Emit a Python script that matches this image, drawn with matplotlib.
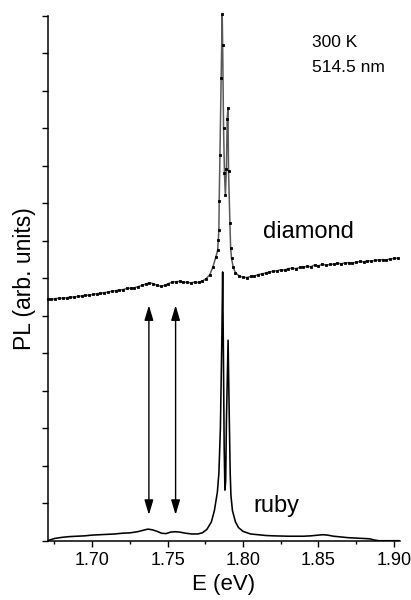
import matplotlib
matplotlib.use("Agg")
import matplotlib.pyplot as plt
from matplotlib.ticker import MultipleLocator, NullFormatter

plt.rcParams['font.family'] = ['Liberation Sans', 'DejaVu Sans']

# diamond spectrum (E in eV, PL in arb. units = y tick steps)
diamond_e = [1.6705, 1.673, 1.6755, 1.678, 1.6805, 1.683, 1.6855, 1.688, 1.6905, 1.693,
             1.6955, 1.698, 1.7005, 1.703, 1.7055, 1.708, 1.7105, 1.713, 1.7155, 1.718,
             1.7205, 1.723, 1.7255, 1.728, 1.7305, 1.733, 1.7355, 1.738, 1.7405, 1.743,
             1.7455, 1.748, 1.7505, 1.753, 1.7555, 1.758, 1.7605, 1.763, 1.7655, 1.768,
             1.7705, 1.773, 1.7755, 1.778, 1.780,
             1.7820, 1.7832, 1.7836, 1.7840, 1.7842, 1.7847, 1.7855, 1.7862, 1.7865, 1.7871,
             1.7877, 1.7883, 1.7890, 1.7895, 1.7900, 1.7904, 1.7913, 1.7918, 1.7924, 1.7935,
             1.7950,
             1.7975, 1.800, 1.8025, 1.805, 1.8075, 1.810, 1.8125, 1.815, 1.8175, 1.820,
             1.8225, 1.825, 1.8275, 1.830, 1.8325, 1.835, 1.8375, 1.840, 1.8425, 1.845,
             1.8475, 1.850, 1.8525, 1.855, 1.8575, 1.860, 1.8625, 1.865, 1.8675, 1.870,
             1.8725, 1.875, 1.8775, 1.880, 1.8825, 1.885, 1.8875, 1.890, 1.8925, 1.895,
             1.8975, 1.900, 1.9025]
diamond_pl = [6.44, 6.44, 6.46, 6.47, 6.47, 6.48, 6.50, 6.50, 6.52, 6.53,
              6.55, 6.55, 6.57, 6.59, 6.60, 6.62, 6.63, 6.66, 6.67, 6.69,
              6.70, 6.73, 6.74, 6.75, 6.78, 6.81, 6.85, 6.88, 6.86, 6.81,
              6.79, 6.81, 6.86, 6.90, 6.91, 6.92, 6.90, 6.89, 6.88, 6.90,
              6.89, 6.93, 6.99, 7.10, 7.30,
              7.57, 7.75, 8.02, 8.30, 9.07, 10.29, 12.35, 14.04, 13.22, 11.00,
              9.80, 9.22, 9.93, 11.24, 11.55, 9.87, 8.48, 7.80, 7.53, 7.30,
              7.15,
              7.06, 7.03, 7.02, 7.05, 7.06, 7.10, 7.12, 7.14, 7.17, 7.19,
              7.20, 7.23, 7.22, 7.26, 7.27, 7.26, 7.29, 7.30, 7.32, 7.31,
              7.36, 7.33, 7.38, 7.35, 7.37, 7.38, 7.40, 7.39, 7.41, 7.42,
              7.41, 7.43, 7.45, 7.44, 7.47, 7.46, 7.48, 7.49, 7.50, 7.49,
              7.52, 7.53, 7.54]

# ruby spectrum
ruby_e = [1.6705, 1.675, 1.680, 1.685, 1.690, 1.695, 1.700, 1.705, 1.710, 1.715,
          1.720, 1.725, 1.730, 1.734, 1.737, 1.740, 1.743, 1.746, 1.749, 1.752,
          1.755, 1.758, 1.762, 1.766, 1.770, 1.773, 1.776, 1.779, 1.781, 1.783,
          1.784, 1.785, 1.786, 1.7865, 1.787, 1.7875, 1.788, 1.7885, 1.789, 1.7901,
          1.791, 1.7915, 1.792, 1.793, 1.795, 1.797, 1.800, 1.805, 1.810, 1.815,
          1.820, 1.830, 1.840, 1.845, 1.850, 1.853, 1.856, 1.860, 1.865, 1.870,
          1.875, 1.880, 1.884, 1.887, 1.890, 1.904]
ruby_pl = [0.0, 0.06, 0.09, 0.11, 0.12, 0.13, 0.15, 0.16, 0.17, 0.18,
           0.20, 0.21, 0.24, 0.28, 0.31, 0.29, 0.25, 0.20, 0.19, 0.23,
           0.24, 0.23, 0.20, 0.18, 0.18, 0.21, 0.30, 0.50, 0.80, 1.30,
           1.80, 3.00, 5.50, 7.17, 5.00, 2.50, 1.35, 1.60, 3.20, 5.35,
           3.00, 1.80, 1.20, 0.80, 0.50, 0.35, 0.25, 0.18, 0.16, 0.14,
           0.13, 0.12, 0.12, 0.13, 0.15, 0.16, 0.15, 0.12, 0.10, 0.08,
           0.07, 0.06, 0.05, 0.02, 0.0, 0.0]

# double arrows marking the side bands
arrow_e = [1.7376, 1.7553]
arrow_lo, arrow_hi = 0.69, 6.28

fig = plt.figure(figsize=(4.11, 6.0), dpi=100)
ax = fig.add_axes([0.116, 0.0988, 0.857, 0.8746])

ax.plot(ruby_e, ruby_pl, color='black', lw=1.15)
ax.plot(diamond_e, diamond_pl, color='0.35', lw=1.1, marker='s', ms=2.0,
        mfc='black', mec='black', mew=0.6, clip_on=False)

for e in arrow_e:
    ax.annotate('', xy=(e, arrow_lo), xytext=(e, arrow_hi),
                arrowprops=dict(arrowstyle='<|-|>,head_length=0.9,head_width=0.27',
                                color='black', lw=1.0, shrinkA=0, shrinkB=0))

ax.text(1.8132, 8.07, 'diamond', fontsize=17, va='baseline', ha='left')
ax.text(1.8066, 0.77, 'ruby', fontsize=17, va='baseline', ha='left')
ax.text(1.8457, 13.17, '300 K', fontsize=12.5, va='baseline', ha='left')
ax.text(1.8457, 12.51, '514.5 nm', fontsize=12.5, va='baseline', ha='left')

ax.set_xlim(1.6705, 1.904)
ax.set_ylim(0, 14)
ax.xaxis.set_major_locator(MultipleLocator(0.05))
ax.xaxis.set_minor_locator(MultipleLocator(0.025))
ax.xaxis.set_major_formatter(plt.FormatStrFormatter('%.2f'))
ax.yaxis.set_major_locator(MultipleLocator(1))
ax.yaxis.set_major_formatter(NullFormatter())

for s in ['top', 'right']:
    ax.spines[s].set_visible(False)
for s in ['left', 'bottom']:
    ax.spines[s].set_linewidth(1.1)

ax.tick_params(axis='x', which='major', direction='out', length=4, width=1.0,
               labelsize=13, pad=4)
ax.tick_params(axis='x', which='minor', direction='out', length=2.5, width=1.0)
ax.tick_params(axis='y', which='major', direction='out', length=4, width=1.0)

ax.set_xlabel('E (eV)', fontsize=16, labelpad=4)
ax.set_ylabel('PL (arb. units)', fontsize=16.5, labelpad=1)

fig.savefig('out.png', dpi=100)
